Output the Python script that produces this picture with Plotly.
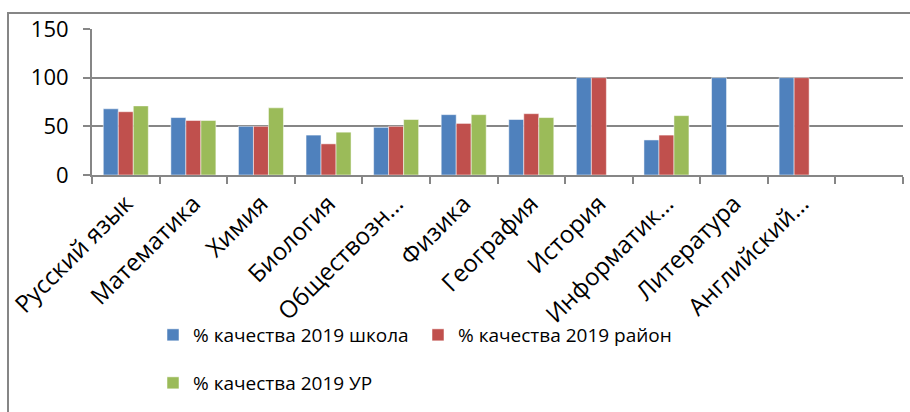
import plotly.graph_objects as go

categories = ["Русский язык", "Математика", "Химия", "Биология", "Обществозн…",
              "Физика", "География", "История", "Информатик…", "Литература",
              "Английский…", " "]
school = [68, 59, 50, 41, 49, 62, 57, 100, 36, 100, 100, None]
district = [65, 56, 50, 32, 50, 53, 63, 100, 41, None, 100, None]
ur = [71, 56, 69, 44, 57, 62, 59, None, 61, None, None, None]
series_names = ["% качества 2019 школа", "% качества 2019 район", "% качества 2019 УР"]
colors = ["#4F81BD", "#C0504D", "#9BBB59"]
y_ticks = [0, 50, 100, 150]

FONT = "Open Sans"
fig = go.Figure()
for i, (name, vals) in enumerate(zip(series_names, [school, district, ur])):
    fig.add_trace(go.Bar(
        x=categories, y=vals, name=name,
        marker=dict(color=colors[i], line=dict(color="rgba(255,255,255,0.5)", width=1)),
        legend="legend" if i < 2 else "legend2",
    ))

W, H = 910, 412
L, R, T, B = 92, 7, 29, 237
pw, ph = W - L - R, H - T - B

def px_x(x):
    return (x - L) / pw

def px_y(y):
    return (H - B - y) / ph

fig.update_layout(
    width=W, height=H,
    margin=dict(l=L, r=R, t=T, b=B, pad=0),
    paper_bgcolor="white", plot_bgcolor="white",
    barmode="group", bargap=0.334, bargroupgap=0,
    font=dict(family=FONT, color="black"),
    legend=dict(orientation="h", x=px_x(153), y=px_y(316), xanchor="left", yanchor="top",
                font=dict(size=19, family=FONT), itemwidth=30, tracegroupgap=0,
                entrywidth=220, entrywidthmode="pixels",
                bgcolor="rgba(0,0,0,0)"),
    legend2=dict(orientation="h", x=px_x(153), y=px_y(364), xanchor="left", yanchor="top",
                 font=dict(size=19, family=FONT), itemwidth=30,
                 bgcolor="rgba(0,0,0,0)"),
    xaxis=dict(showline=True, linecolor="#868686", linewidth=2, ticks="outside",
               ticklen=7, tickcolor="#868686", tickwidth=2, tickangle=-45,
               tickson="boundaries", tickfont=dict(size=24, family=FONT),
               ticklabelstandoff=3,
               showgrid=False, range=[-0.5, 11.5]),
    yaxis=dict(range=[0, 150], tickvals=y_ticks, showline=True, linecolor="#868686",
               linewidth=2, ticks="outside", ticklen=7, tickcolor="#868686", tickwidth=2,
               showgrid=True, gridcolor="#868686", gridwidth=2, zeroline=False,
               tickfont=dict(size=22, family=FONT), ticklabelstandoff=10),
    shapes=[dict(type="rect", xref="paper", yref="paper",
                 x0=px_x(8), x1=px_x(920), y0=px_y(420), y1=px_y(13),
                 line=dict(color="#868686", width=2), fillcolor="rgba(0,0,0,0)", layer="below")],
)
fig.write_html("out.html")
